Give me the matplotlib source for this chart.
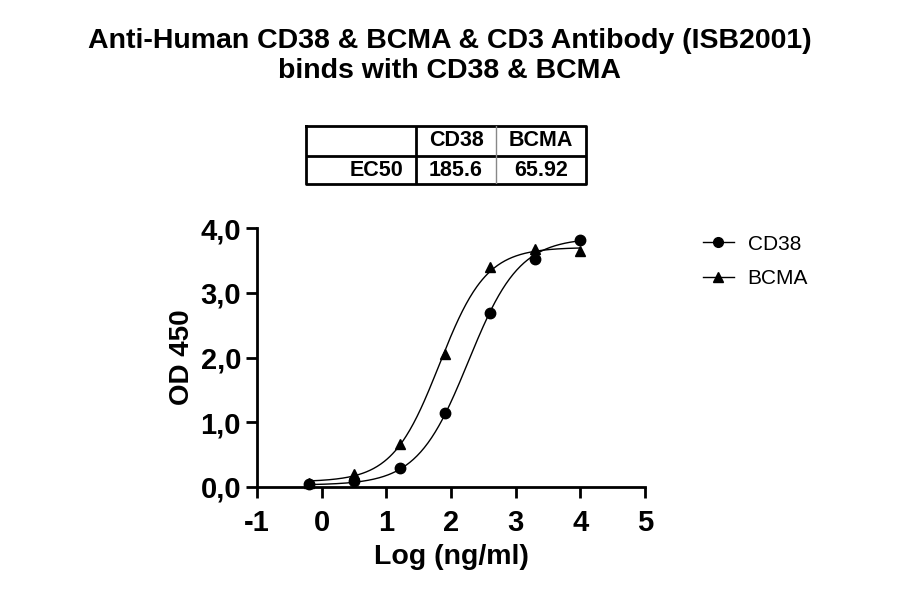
import numpy as np
import matplotlib
matplotlib.use('Agg')
import matplotlib.pyplot as plt
from matplotlib.ticker import FuncFormatter
from matplotlib.lines import Line2D

plt.rcParams['font.family'] = ['Liberation Sans', 'DejaVu Sans']
plt.rcParams['axes.unicode_minus'] = False

# data (log10 ng/ml, 5-fold dilutions)
log_conc = [-0.194, 0.505, 1.204, 1.903, 2.602, 3.301, 4.0]
cd38_od = [0.05, 0.09, 0.30, 1.14, 2.68, 3.52, 3.82]
bcma_od = [0.06, 0.20, 0.67, 2.05, 3.40, 3.68, 3.64]

# 4PL fit parameters: bottom, top, logEC50, hill
cd38_fit = [0.03, 3.85, np.log10(185.6), 1.1]
bcma_fit = [0.08, 3.70, np.log10(65.92), 1.2]

table_cols = ['CD38', 'BCMA']
table_row = 'EC50'
ec50_vals = ['185.6', '65.92']


def four_pl(x, p):
    bottom, top, logec50, hill = p
    return bottom + (top - bottom) / (1 + 10 ** ((logec50 - x) * hill))


fig = plt.figure(figsize=(9, 5.94), dpi=100)

fig.text(0.5, 1 - 56 / 594, 'Anti-Human CD38 & BCMA & CD3 Antibody (ISB2001)\nbinds with CD38 & BCMA',
         ha='center', va='center', fontsize=20.5, fontweight='bold', linespacing=1.2)

# EC50 table drawn in its own axes (fig px: x 306-586, y 126-184)
tax = fig.add_axes([306 / 900, 1 - 184 / 594, 280 / 900, 58 / 594])
tax.set_xlim(306, 586)
tax.set_ylim(184, 126)
tax.axis('off')
tax.plot([306, 586, 586, 306, 306], [126, 126, 184, 184, 126], color='black', lw=2, clip_on=False)
tax.plot([306, 586], [155.5, 155.5], color='black', lw=2)
tax.plot([416, 416], [126, 184], color='black', lw=2)
tax.plot([496, 496], [126, 184], color='#888888', lw=1)
col_centers = [456, 541]
for cx, name, val in zip(col_centers, table_cols, ec50_vals):
    tax.text(cx, 141, name, ha='center', va='center', fontsize=15.5, fontweight='bold')
    tax.text(cx, 170, val, ha='center', va='center', fontsize=15.5, fontweight='bold')
tax.text(403, 170, table_row, ha='right', va='center', fontsize=15.5, fontweight='bold')

# main plot
ax = fig.add_axes([257 / 900, 1 - 487 / 594, 388 / 900, 259 / 594])
xs = np.linspace(log_conc[0], log_conc[-1], 300)
ax.plot(xs, four_pl(xs, cd38_fit), color='black', lw=1.0)
ax.plot(xs, four_pl(xs, bcma_fit), color='black', lw=1.0)
ax.plot(log_conc, cd38_od, 'o', color='black', ms=7.5, clip_on=False, zorder=3)
ax.plot(log_conc, bcma_od, '^', color='black', ms=7.5, clip_on=False, zorder=3)

ax.set_xlim(-1, 5)
ax.set_ylim(0, 4)
ax.set_xticks(range(-1, 6))
ax.set_yticks([0, 1, 2, 3, 4])
ax.yaxis.set_major_formatter(FuncFormatter(lambda v, p: ('%.1f' % v).replace('.', ',')))
for s in ['top', 'right']:
    ax.spines[s].set_visible(False)
for s in ['left', 'bottom']:
    ax.spines[s].set_linewidth(2)
ax.tick_params(width=2, length=8, labelsize=21)
ax.tick_params(axis='x', pad=8)
for lab in ax.get_xticklabels() + ax.get_yticklabels():
    lab.set_fontweight('bold')
ax.set_xlabel('Log (ng/ml)', fontsize=20.5, fontweight='bold', labelpad=5)
ax.set_ylabel('OD 450', fontsize=20, fontweight='bold', labelpad=4)

handles = [Line2D([], [], color='black', lw=1.0, marker='o', ms=7),
           Line2D([], [], color='black', lw=1.0, marker='^', ms=7)]
fig.legend(handles, table_cols, loc='upper left', bbox_to_anchor=(684 / 900, 1 - 216 / 594),
           frameon=False, fontsize=15, handlelength=1.5, labelspacing=0.75, handletextpad=0.65)

fig.savefig('out.png', dpi=100)
